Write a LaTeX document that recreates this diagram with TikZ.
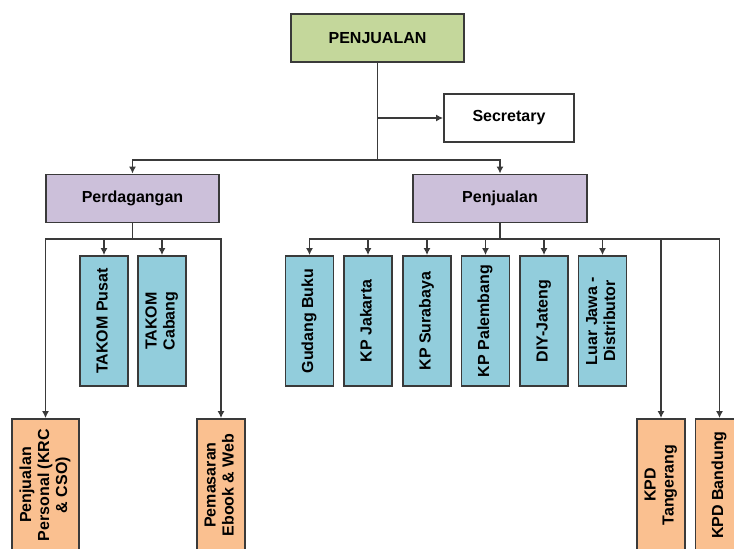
\documentclass[tikz,border=0pt]{standalone}
\usepackage{fontspec}
\setmainfont{Liberation Sans}
\usetikzlibrary{arrows.meta}
\definecolor{cgreen}{HTML}{C4D79B}
\definecolor{cpurple}{HTML}{CCC0DA}
\definecolor{cblue}{HTML}{92CDDC}
\definecolor{corange}{HTML}{FAC090}
\definecolor{cline}{HTML}{3A3A3A}
\tikzset{
  box/.style={draw=cline, line width=1.8pt, inner sep=0pt, font=\fontsize{16}{18}\selectfont\bfseries, align=center},
  hbox/.style={box, minimum width=173pt, minimum height=48pt},
  vbox/.style={box, fill=cblue, minimum width=48pt, minimum height=130pt},
  obox/.style={box, fill=corange, minimum width=48pt, minimum height=132pt},
  conn/.style={draw=cline, line width=1.8pt},
  arr/.style={conn, -{Latex[length=7pt,width=7pt]}},
}
\newcommand{\vt}[1]{\rotatebox{90}{\begin{tabular}{@{}c@{}}#1\end{tabular}}}
\begin{document}
\begin{tikzpicture}[x=1pt,y=-1pt]
\clip (0,0) rectangle (734,549);
\fill[white] (0,0) rectangle (734,549);
% top level
\node[hbox, fill=cgreen] (top) at (377.5,38) {PENJUALAN};
\node[box, fill=white, minimum width=130pt, minimum height=48pt] (sec) at (509,118) {Secretary};
\node[hbox, fill=cpurple] (perd) at (132.5,198.5) {Perdagangan};
\node[hbox, fill=cpurple, minimum width=174pt] (penj) at (500,198.5) {Penjualan};
% Perdagangan children
\node[vbox] (tp) at (104,321) {\vt{TAKOM Pusat}};
\node[vbox] (tc) at (162,321) {\vt{TAKOM\\Cabang}};
\node[obox, minimum width=67pt] (pp) at (45.5,485) {\vt{Penjualan\\Personal (KRC\\\& CSO)}};
\node[obox] (pem) at (221,485) {\vt{Pemasaran\\Ebook \& Web}};
% Penjualan children
\node[vbox] (gb) at (309.5,321) {\vt{Gudang Buku}};
\node[vbox] (kj) at (368,321) {\vt{KP Jakarta}};
\node[vbox] (ks) at (427,321) {\vt{KP Surabaya}};
\node[vbox] (kpl) at (485.5,321) {\vt{KP Palembang}};
\node[vbox] (diy) at (544,321) {\vt{DIY-Jateng}};
\node[vbox] (lj) at (602.5,321) {\vt{Luar Jawa -\\Distributor}};
\node[obox] (kt) at (661,485) {\vt{KPD\\Tangerang}};
\node[obox] (kb) at (719.5,485) {\vt{KPD Bandung}};
% connectors
\coordinate (js) at (377.5,118);
\coordinate (j1) at (377.5,160);
\coordinate (j2) at (132.5,239);
\coordinate (j3) at (500,239);
\draw[conn] (top.south) -- (j1);
\draw[arr] (js) -- (sec.west);
\draw[arr] (j1) -| (perd.north);
\draw[arr] (j1) -| (penj.north);
\draw[conn] (perd.south) -- (j2);
\foreach \n in {pp,tp,tc,pem} \draw[arr] (j2) -| (\n.north);
\draw[conn] (penj.south) -- (j3);
\foreach \n in {gb,kj,ks,kpl,diy,lj,kt,kb} \draw[arr] (j3) -| (\n.north);
\end{tikzpicture}
\end{document}
